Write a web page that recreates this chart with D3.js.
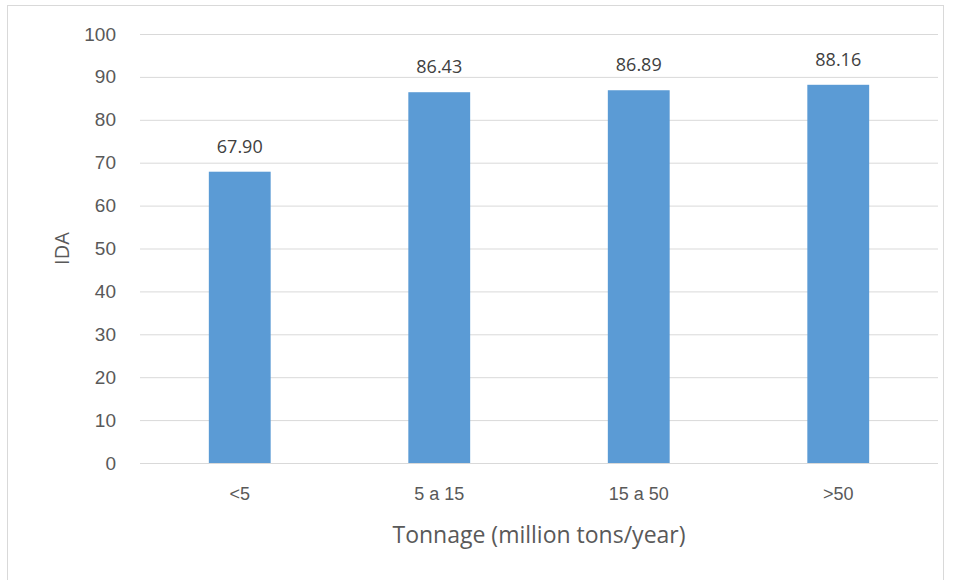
<!DOCTYPE html>
<html>
<head>
<meta charset="utf-8">
<script src="https://cdn.jsdelivr.net/npm/d3@7"></script>
<style>
  html, body { margin: 0; padding: 0; background: #fff; }
  svg { display: block; font-family: "Open Sans", "Noto Sans", sans-serif; }
</style>
</head>
<body>
<svg id="chart" width="956" height="580"></svg>
<script>
// Tonnage classes and their IDA values
const categories = ["<5", "5 a 15", "15 a 50", ">50"];
const values = [67.90, 86.43, 86.89, 88.16];
const yTicks = [0, 10, 20, 30, 40, 50, 60, 70, 80, 90, 100];

const svg = d3.select("#chart");
const margin = { left: 140, right: 18, top: 34, bottom: 117 };
const W = 956, H = 580;

// chart frame
svg.append("rect")
  .attr("x", 7.5).attr("y", 5.5)
  .attr("width", 936).attr("height", 590)
  .attr("fill", "#fff").attr("stroke", "#d9d9d9");

const x = d3.scaleBand()
  .domain(categories)
  .range([margin.left, W - margin.right])
  .paddingInner(0.69).paddingOuter(0.345);

const y = d3.scaleLinear().domain([0, 100]).range([H - margin.bottom, margin.top]);

// gridlines and y tick labels
const yAxis = d3.axisLeft(y).tickValues(yTicks)
  .tickSize(-(W - margin.right - margin.left)).tickPadding(24);
const gy = svg.append("g").attr("transform", `translate(${margin.left},0)`).call(yAxis);
gy.select(".domain").remove();
gy.selectAll(".tick line").attr("stroke", "#d9d9d9").attr("stroke-width", 1);
gy.selectAll(".tick text").attr("fill", "#595959").attr("font-size", 19);

// x axis category labels
const xAxis = d3.axisBottom(x).tickSize(0).tickPadding(24);
const gx = svg.append("g").attr("transform", `translate(0,${y(0)})`).call(xAxis);
gx.select(".domain").remove();
gx.selectAll(".tick text").attr("fill", "#595959").attr("font-size", 18);

// bars
svg.append("g").selectAll("rect")
  .data(values)
  .join("rect")
  .attr("x", (d, i) => x(categories[i]))
  .attr("y", d => y(d))
  .attr("width", x.bandwidth())
  .attr("height", d => y(0) - y(d))
  .attr("fill", "#5b9bd5");

// value labels
svg.append("g").selectAll("text")
  .data(values)
  .join("text")
  .attr("x", (d, i) => x(categories[i]) + x.bandwidth() / 2)
  .attr("y", d => y(d) - 19)
  .attr("text-anchor", "middle")
  .attr("fill", "#404040")
  .attr("font-size", 18)
  .text(d => d.toFixed(2));

// axis titles
svg.append("text")
  .attr("transform", `translate(69,${(y(0) + y(100)) / 2}) rotate(-90)`)
  .attr("text-anchor", "middle")
  .attr("fill", "#595959")
  .attr("font-size", 20)
  .text("IDA");

svg.append("text")
  .attr("x", (margin.left + W - margin.right) / 2)
  .attr("y", 543)
  .attr("text-anchor", "middle")
  .attr("fill", "#595959")
  .attr("font-size", 23)
  .text("Tonnage (million tons/year)");
</script>
</body>
</html>
